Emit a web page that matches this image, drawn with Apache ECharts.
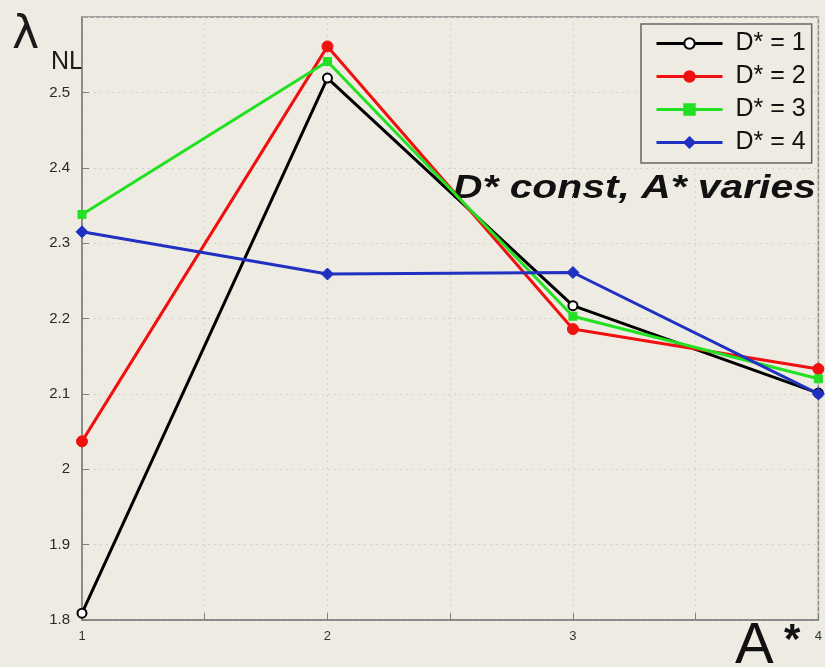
<!DOCTYPE html>
<html><head><meta charset="utf-8">
<script src="https://cdn.jsdelivr.net/npm/echarts@6/dist/echarts.min.js"></script>
<style>html,body{margin:0;padding:0;background:#eeebe2;}#c{width:825px;height:667px;}</style>
</head><body><div id="c"></div>
<script>
const xValues = [1, 2, 3, 4];
const seriesNames = ['D* = 1', 'D* = 2', 'D* = 3', 'D* = 4'];
const d1 = [1.809, 2.519, 2.217, 2.101];
const d2 = [2.037, 2.561, 2.186, 2.133];
const d3 = [2.338, 2.541, 2.203, 2.120];
const d4 = [2.315, 2.259, 2.261, 2.100];
const xTickLabels = ['1', '2', '3', '4'];

const colors = ['#000000', '#f01010', '#22e022', '#2030c0'];
const symbols = ['emptyCircle', 'circle', 'rect', 'diamond'];
const symbolSizes = [9, 11, 8, 12];
const all = [d1, d2, d3, d4];

const chart = echarts.init(document.getElementById('c'));
chart.setOption({
  backgroundColor: '#eeebe2',
  animation: false,
  grid: {left: 82, top: 17, right: 5, bottom: 47, show: true, borderColor: '#8a8a8a', borderWidth: 1.5},
  legend: {
    left: 641, top: 24, orient: 'vertical',
    data: seriesNames,
    backgroundColor: '#eeebe2', borderColor: '#666', borderWidth: 1.5,
    padding: [7, 6, 8, 14], itemGap: 8, itemWidth: 66, itemHeight: 13,
    lineStyle: {width: 3},
    textStyle: {fontFamily: 'Liberation Sans, Arial', fontSize: 25, color: '#111', lineHeight: 24, padding: [0, 0, 0, 8]}
  },
  xAxis: {
    type: 'value', min: 1, max: 4, interval: 0.5,
    axisLine: {show: true, lineStyle: {color: '#808080', width: 1.5}},
    axisTick: {show: true, inside: true, length: 7, lineStyle: {color: '#808080'}},
    splitLine: {show: true, lineStyle: {color: '#d3d1ca', type: [2, 4], width: 1}},
    axisLabel: {
      margin: 10, fontFamily: 'Liberation Sans, Arial', fontSize: 13, color: '#333',
      formatter: v => Number.isInteger(v) ? xTickLabels[v - 1] : ''
    }
  },
  yAxis: {
    type: 'value', min: 1.8, max: 2.6, interval: 0.1,
    axisLine: {show: true, lineStyle: {color: '#808080', width: 1.5}},
    axisTick: {show: true, inside: true, length: 7, lineStyle: {color: '#808080'}},
    splitLine: {show: true, lineStyle: {color: '#d3d1ca', type: [2, 4], width: 1}},
    axisLabel: {showMaxLabel: false, margin: 12, fontFamily: 'Liberation Sans, Arial', fontSize: 15, color: '#2a2a2a',
      formatter: v => String(Math.round(v * 10) / 10)}
  },
  series: all.map((d, i) => ({
    name: seriesNames[i], type: 'line',
    data: d.map((v, j) => [xValues[j], v]),
    symbol: symbols[i], symbolSize: symbolSizes[i],
    lineStyle: {color: colors[i], width: 3},
    itemStyle: {color: colors[i], borderColor: colors[i], borderWidth: i === 0 ? 2.5 : 1},
    z: 2 + i
  })),
  graphic: [
    {type: 'text', left: 12, top: 13, style: {text: 'λ', fontFamily: 'DejaVu Sans', fontSize: 46, fill: '#1a1a1a'}},
    {type: 'text', left: 51, top: 50, style: {text: 'NL', fontFamily: 'Liberation Sans, Arial', fontSize: 25, fill: '#1a1a1a'}},
    {type: 'text', left: 453, top: 172, scaleX: 1.2, style: {text: 'D* const, A* varies', fontFamily: 'Liberation Sans, Arial', fontSize: 34, fontWeight: 'bold', fontStyle: 'italic', fill: '#111'}},
    {type: 'text', left: 735, top: 618, style: {text: 'A', fontFamily: 'Liberation Sans, Arial', fontSize: 58, fill: '#111'}},
    {type: 'text', left: 784, top: 620, style: {text: '*', fontFamily: 'Liberation Sans, Arial', fontSize: 42, fontWeight: 'bold', fill: '#111'}}
  ]
});
</script></body></html>
